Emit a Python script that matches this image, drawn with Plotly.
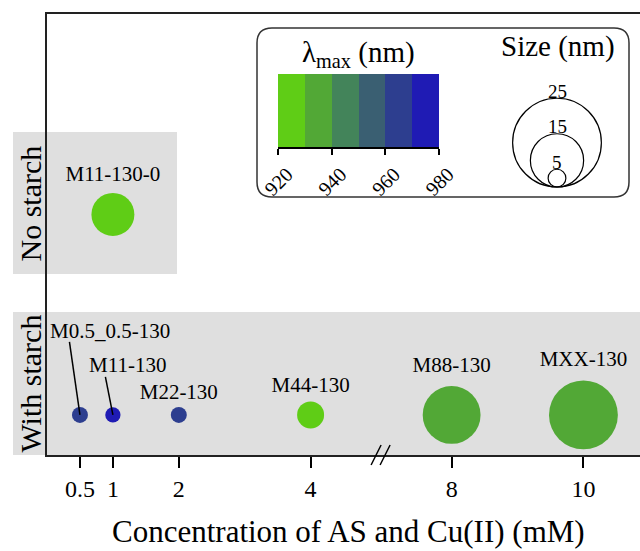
import plotly.graph_objects as go

# ---------------- data ----------------
samples = ["M11-130-0", "M0.5_0.5-130", "M11-130", "M22-130", "M44-130", "M88-130", "MXX-130"]
starch = ["No starch", "With starch", "With starch", "With starch", "With starch", "With starch", "With starch"]
conc_mM = [1, 0.5, 1, 2, 4, 8, 10]
lambda_max_nm = [925, 965, 975, 965, 925, 935, 935]
size_nm = [12.1, 4.5, 4.3, 4.5, 7.6, 16.3, 19.4]

x_tick_values = [0.5, 1, 2, 4, 8, 10]
x_tick_labels = ["0.5", "1", "2", "4", "8", "10"]
groups = ["With starch", "No starch"]          # bottom -> top
lambda_bins = [920, 930, 940, 950, 960, 970, 980]
lambda_ticks = [920, 940, 960, 980]
bin_colors = ["#5fcd16", "#52a836", "#43845a", "#3a5f72", "#2d3e8f", "#1f1bb4"]
size_legend_nm = [25, 15, 5]

# ---------------- layout constants ----------------
W, H = 640, 551
ML, MR, MT, MB = 47, 0, 14, 96
PW, PH = W - ML - MR, H - MT - MB
FONT = "Liberation Serif, Times New Roman, serif"
PX_PER_NM = 3.55            # marker diameter (px) per nm of particle size
BREAK_LO, BREAK_HI, BREAK_GAP = 4, 8, 2.14   # axis break 4 -> 8 drawn as 2.14 units


def bx(v):
    """map a concentration onto the broken x axis"""
    return v if v <= BREAK_LO else v - (BREAK_HI - BREAK_LO) + BREAK_GAP


def px_x(p):
    return (p - ML) / PW


def px_y(p):
    return (H - MB - p) / PH


def txt(text, x, y, size, xref="paper", yref="paper", **kw):
    d = dict(text=text, x=x, y=y, xref=xref, yref=yref, showarrow=False,
             xanchor="center", yanchor="middle",
             font=dict(size=size, color="black", family=FONT))
    d.update(kw)
    return d


# discrete colour scale
n = len(bin_colors)
cscale = []
for i, c in enumerate(bin_colors):
    cscale.append([i / n, c])
    cscale.append([(i + 1) / n, c])

callouts = {  # label offset (dx, dy) and leader line end (lx, ly), px
    "M0.5_0.5-130": (30, 84, -10.5, 73),
    "M11-130": (15, 50, -7.5, 38),
}

xs = [bx(c) for c in conc_mM]
ys = [groups.index(s) for s in starch]
sizes_px = [s * PX_PER_NM for s in size_nm]

fig = go.Figure()
for is_callout in (False, True):
    idx = [i for i, s in enumerate(samples) if (s in callouts) == is_callout]
    fig.add_trace(go.Scatter(
        x=[xs[i] for i in idx], y=[ys[i] for i in idx],
        mode="markers" if is_callout else "markers+text",
        text=None if is_callout else [samples[i] for i in idx],
        textposition="top center",
        textfont=dict(size=21, color="black", family=FONT),
        marker=dict(size=[sizes_px[i] for i in idx], sizemode="diameter",
                    color=[lambda_max_nm[i] for i in idx], colorscale=cscale,
                    cmin=lambda_bins[0], cmax=lambda_bins[-1],
                    line=dict(width=0), opacity=1),
        showlegend=False, hoverinfo="text", hovertext=[samples[i] for i in idx],
    ))

# colour legend as a heatmap on its own small axes
centers = [(a + b) / 2 for a, b in zip(lambda_bins[:-1], lambda_bins[1:])]
fig.add_trace(go.Heatmap(
    z=[centers], x=centers, y=[0.5], xaxis="x2", yaxis="y2",
    colorscale=cscale, zmin=lambda_bins[0], zmax=lambda_bins[-1],
    showscale=False, hoverinfo="skip",
))

annotations = []
shapes = []

# background bands
shapes.append(dict(type="rect", xref="paper", yref="paper", layer="below",
                   x0=px_x(13), x1=px_x(177), y0=px_y(274), y1=px_y(132),
                   fillcolor="#dfdfdf", line=dict(width=0)))
shapes.append(dict(type="rect", xref="paper", yref="paper", layer="below",
                   x0=px_x(13), x1=1.0, y0=0, y1=px_y(312),
                   fillcolor="#dfdfdf", line=dict(width=0)))

# group labels
for g, yc in zip(["No starch", "With starch"], [203.5, 383.5]):
    annotations.append(txt(g, px_x(30), px_y(yc), 30, textangle=-90))

# callout labels + leader lines
for s, x, y in zip(samples, xs, ys):
    if s in callouts:
        dx, dy, lx, ly = callouts[s]
        annotations.append(txt(s, x, y, 21, xref="x", yref="y", xshift=dx, yshift=dy))
        shapes.append(dict(type="line", xref="x", yref="y", xsizemode="pixel", ysizemode="pixel",
                           xanchor=x, yanchor=y, x0=0, y0=0, x1=lx, y1=ly,
                           line=dict(color="black", width=1.5)))

# axis break marks
bmid = (bx(BREAK_LO) + bx(BREAK_HI)) / 2
for off in (-9, 0):
    shapes.append(dict(type="line", xref="x", yref="paper", xsizemode="pixel", ysizemode="pixel",
                       xanchor=bmid, yanchor=0, x0=off - 1, y0=-10, x1=off + 9, y1=10,
                       line=dict(color="black", width=1.5)))

# legend box (rounded rectangle)
bx0, bx1, by0, by1, r = 257, 629, 28, 197, 15
rx, ry = r / PW, r / PH
X0, X1, Y0, Y1 = px_x(bx0), px_x(bx1), px_y(by1), px_y(by0)
path = (f"M {X0+rx},{Y1} L {X1-rx},{Y1} Q {X1},{Y1} {X1},{Y1-ry} "
        f"L {X1},{Y0+ry} Q {X1},{Y0} {X1-rx},{Y0} L {X0+rx},{Y0} "
        f"Q {X0},{Y0} {X0},{Y0+ry} L {X0},{Y1-ry} Q {X0},{Y1} {X0+rx},{Y1} Z")
shapes.append(dict(type="path", xref="paper", yref="paper", path=path,
                   line=dict(color="#333333", width=1.5), fillcolor="rgba(0,0,0,0)"))

# legend titles
annotations.append(txt("λ<sub>max</sub> (nm)", px_x(358.5), px_y(54), 29))
annotations.append(txt("Size (nm)", px_x(557.5), px_y(47), 29))

# size legend circles
cx, cy = px_x(557), px_y(187)
for s in size_legend_nm:
    d = s * PX_PER_NM
    shapes.append(dict(type="circle", xref="paper", yref="paper", xsizemode="pixel", ysizemode="pixel",
                       xanchor=cx, yanchor=cy, x0=-d / 2, x1=d / 2, y0=0, y1=d,
                       line=dict(color="black", width=1.2), fillcolor="rgba(0,0,0,0)"))
    annotations.append(txt(str(s), cx, cy, 19, yshift=d + 7))

# x-axis title
annotations.append(txt("Concentration of AS and Cu(II) (mM)", px_x(348), px_y(531), 31))

fig.update_layout(
    width=W, height=H, margin=dict(l=ML, r=MR, t=MT, b=MB, autoexpand=False),
    paper_bgcolor="white", plot_bgcolor="rgba(0,0,0,0)",
    font=dict(family=FONT, color="black"),
    xaxis=dict(range=[0, PW / 65.9], tickvals=[bx(v) for v in x_tick_values], ticktext=x_tick_labels,
               ticks="outside", ticklen=11, tickwidth=1.5, tickcolor="black",
               tickfont=dict(size=24, color="black", family=FONT),
               showline=True, linewidth=2, linecolor="#222222", mirror=True,
               showgrid=False, zeroline=False, fixedrange=True),
    yaxis=dict(range=[-0.2, 2.0], showticklabels=False, ticks="",
               showline=True, linewidth=2, linecolor="#222222",
               showgrid=False, zeroline=False, fixedrange=True),
    xaxis2=dict(domain=[px_x(278), px_x(439)], anchor="y2", range=[lambda_bins[0], lambda_bins[-1]],
                tickvals=lambda_ticks, ticks="outside", ticklen=6, tickwidth=1.5, tickcolor="black",
                tickangle=-45, ticklabelshift=9,
                tickfont=dict(size=20, color="black", family=FONT),
                showline=True, linewidth=1.5, linecolor="black",
                showgrid=False, zeroline=False, fixedrange=True),
    yaxis2=dict(domain=[px_y(147), px_y(74)], anchor="x2", range=[0, 1], visible=False,
                fixedrange=True),
    shapes=shapes, annotations=annotations,
)

fig.write_html("out.html", config={"displayModeBar": False},
               post_script="document.body.style.margin='0';")
